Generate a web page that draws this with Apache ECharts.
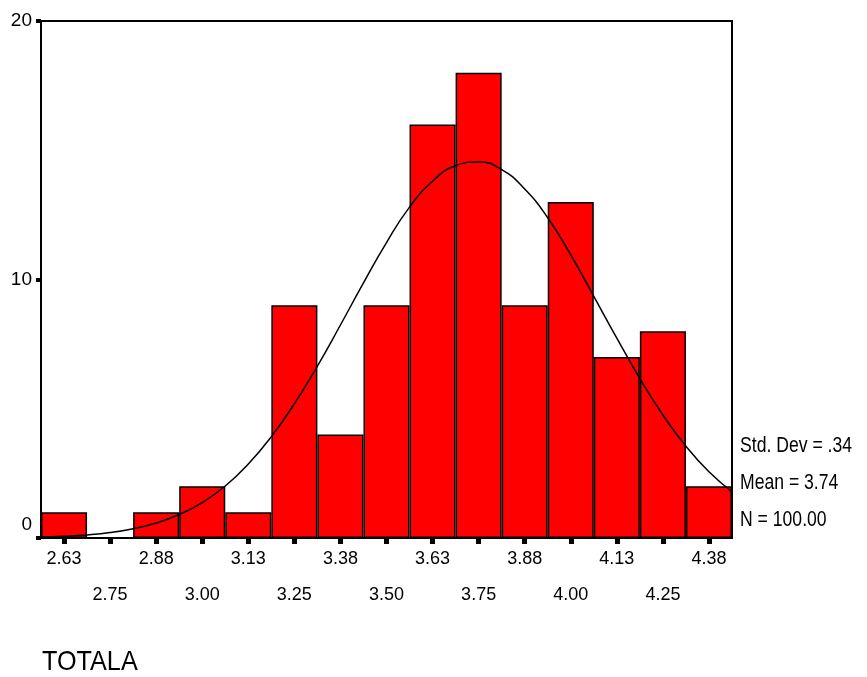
<!DOCTYPE html>
<html>
<head>
<meta charset="utf-8">
<script src="https://cdn.jsdelivr.net/npm/echarts@6/dist/echarts.min.js"></script>
<style>
  html, body { margin: 0; padding: 0; background: #fff; }
  #chart { width: 867px; height: 677px; }
</style>
</head>
<body>
<div id="chart"></div>
<script>
// histogram bins (midpoints) and counts
const binLabels = ['2.63', '2.75', '2.88', '3.00', '3.13', '3.25', '3.38', '3.50',
  '3.63', '3.75', '3.88', '4.00', '4.13', '4.25', '4.38'];
const counts = [1, 0, 1, 2, 1, 9, 4, 9, 16, 18, 9, 13, 7, 8, 2];

// normal curve overlay
const curveX = [2.5625, 2.625, 2.6875, 2.75, 2.8125, 2.875, 2.9375, 3.0, 3.0625, 3.125,
  3.1875, 3.25, 3.3125, 3.375, 3.4375, 3.5, 3.5625, 3.625, 3.6875, 3.75, 3.8125, 3.875,
  3.9375, 4.0, 4.0625, 4.125, 4.1875, 4.25, 4.3125, 4.375, 4.4375];
const curveY = [0.04, 0.07, 0.12, 0.21, 0.36, 0.58, 0.91, 1.37, 2.01, 2.86,
  3.92, 5.19, 6.65, 8.24, 9.87, 11.43, 12.8, 13.8, 14.4, 14.55, 14.25, 13.5,
  12.39, 10.95, 9.35, 7.73, 6.17, 4.76, 3.55, 2.56, 1.79];

const yTicks = [0, 10, 20];
const statLines = ['Std. Dev = .34', 'Mean = 3.74', 'N = 100.00'];
const axisTitle = 'TOTALA';

const FONT = '"Liberation Sans", Arial, sans-serif';

const chart = echarts.init(document.getElementById('chart'));

const option = {
  animation: false,
  backgroundColor: '#fff',
  grid: {
    left: 41,
    right: 135,
    top: 21,
    bottom: 139,
    show: true,
    borderColor: '#000',
    borderWidth: 2,
    backgroundColor: 'transparent'
  },
  xAxis: [{
    type: 'category',
    data: binLabels,
    boundaryGap: true,
    axisLine: { show: false },
    axisTick: {
      show: true,
      alignWithLabel: true,
      length: 6,
      lineStyle: { color: '#000', width: 5 }
    },
    axisLabel: {
      interval: 0,
      margin: 12,
      color: '#000',
      fontFamily: FONT,
      fontSize: 18,
      formatter: (v, i) => (i % 2 ? '{b|' + v + '}' : '{a|' + v + '}'),
      rich: {
        a: { fontFamily: FONT, fontSize: 18, color: '#000' },
        b: { fontFamily: FONT, fontSize: 18, color: '#000', padding: [36, 0, 0, 0] }
      }
    }
  }, {
    type: 'value',
    min: curveX[0],
    max: curveX[curveX.length - 1],
    show: false
  }],
  yAxis: {
    type: 'value',
    min: yTicks[0],
    max: yTicks[yTicks.length - 1],
    interval: 10,
    splitLine: { show: false },
    axisLine: { show: false },
    axisTick: {
      show: true,
      length: 5,
      lineStyle: { color: '#000', width: 4 }
    },
    axisLabel: {
      margin: 9,
      color: '#000',
      fontFamily: FONT,
      fontSize: 19,
      formatter: v => (v === 0 ? '{z|0}' : String(v)),
      rich: {
        z: { fontFamily: FONT, fontSize: 19, color: '#000', padding: [0, 0, 26, 0] }
      }
    }
  },
  series: [{
    type: 'bar',
    data: counts,
    barCategoryGap: 0,
    itemStyle: {
      color: '#ff0000',
      borderColor: '#000',
      borderWidth: 1.5
    }
  }, {
    type: 'line',
    xAxisIndex: 1,
    data: curveX.map((x, i) => [x, curveY[i]]),
    smooth: true,
    symbol: 'none',
    z: 5,
    lineStyle: { color: '#000', width: 1.5 }
  }],
  graphic: statLines.map((t, i) => ({
    type: 'text',
    x: 740,
    y: 435 + i * 37,
    scaleX: 0.8,
    style: { text: t, fill: '#000', font: '22px ' + FONT }
  })).concat([{
    type: 'text',
    x: 42,
    y: 648,
    scaleX: 0.9,
    style: { text: axisTitle, fill: '#000', font: '28px ' + FONT }
  }])
};

chart.setOption(option);
</script>
</body>
</html>
